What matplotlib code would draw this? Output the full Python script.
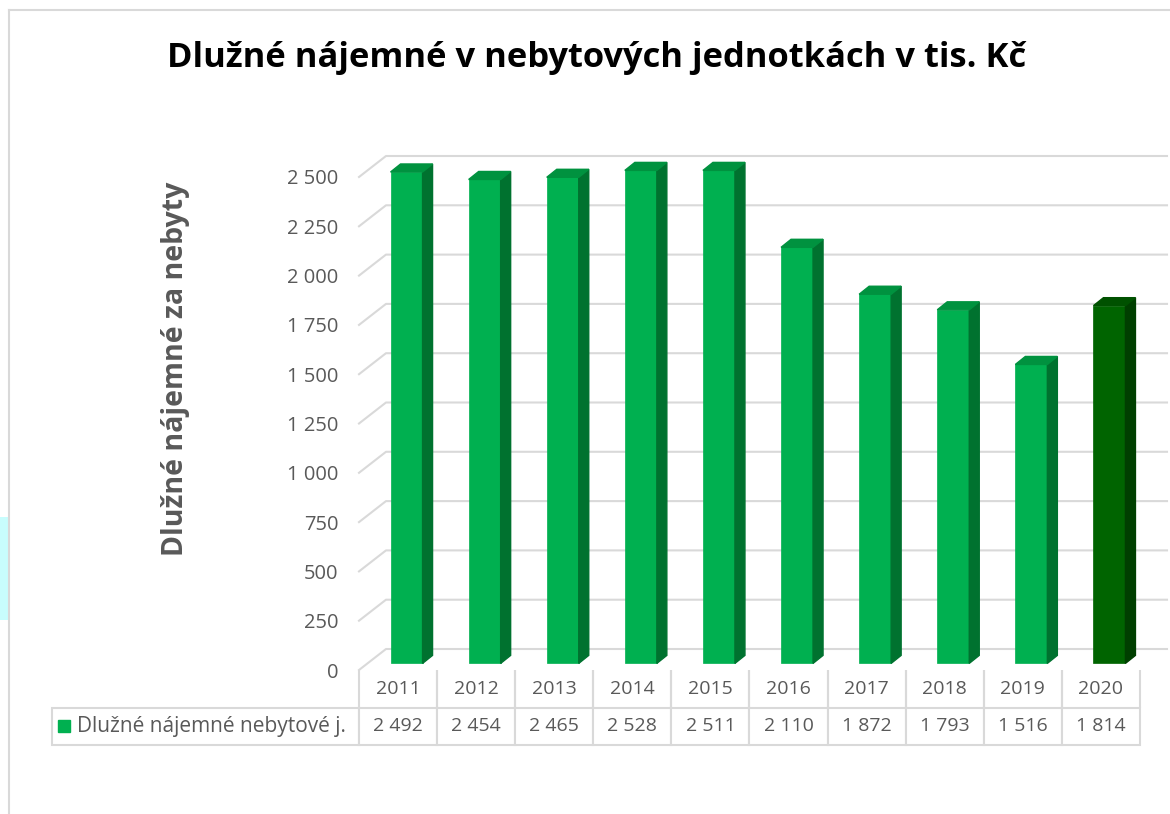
import matplotlib
matplotlib.use("Agg")
import matplotlib.pyplot as plt
from matplotlib.patches import Polygon, Rectangle

plt.rcParams['font.family'] = ['Open Sans', 'DejaVu Sans']

# data
years = ['2011', '2012', '2013', '2014', '2015', '2016', '2017', '2018', '2019', '2020']
values = [2492, 2454, 2465, 2528, 2511, 2110, 1872, 1793, 1516, 1814]
series_name = 'Dlužné nájemné nebytové j.'
yticks = [0, 250, 500, 750, 1000, 1250, 1500, 1750, 2000, 2250, 2500]
ymax = 2500

title = 'Dlužné nájemné v nebytových jednotkách v tis. Kč'
ylabel = 'Dlužné nájemné za nebyty'

green = '#00b050'
green_side = '#00722f'
green_top = '#00923f'
dark = '#006400'
dark_side = '#003f00'
dark_top = '#005100'
grid_col = '#d9d9d9'
text_col = '#595959'


def fmt(v):
    return f'{v:,}'.replace(',', ' ')


fig = plt.figure(figsize=(11.7, 8.14), dpi=100)

# outer frame of the chart area + small cyan strip at the left edge
fig.add_artist(plt.Line2D([9 / 1170, 1.0], [1 - 10 / 814, 1 - 10 / 814], color=grid_col, lw=1.5))
fig.add_artist(plt.Line2D([9 / 1170, 9 / 1170], [0, 1 - 10 / 814], color=grid_col, lw=1.5))
fig.add_artist(Rectangle((0, 1 - 620 / 814), 8 / 1170, 103 / 814, color='#c8fdfd', lw=0))

# axes = front plane of the 3D box
ax = fig.add_axes([359 / 1170, 1 - 670 / 814, 781 / 1170, 493 / 814])
ax.set_xlim(-0.5, len(years) - 0.5)
ax.set_ylim(0, ymax)
for s in ax.spines.values():
    s.set_visible(False)
ax.set_xticks([])
ax.set_yticks(yticks)
ax.set_yticklabels([fmt(t) for t in yticks])
ax.tick_params(axis='y', length=0, pad=15, labelsize=14.5, labelcolor=text_col)
ax.patch.set_alpha(0)

# depth of the box and of the bars in data units
DX, DY = 27 / 78.1, 21 / 0.1972
bdx, bdy = 10 / 78.1, 8 / 0.1972
fx, fy = 8.5 / 78.1, 6.6 / 0.1972
w = 32 / 78.1

# gridlines: left wall diagonal + back wall
x0, x1 = -0.5, len(years) - 0.5
for t in yticks:
    ax.plot([x0, x0 + DX, x1 + DX], [t, t + DY, t + DY], color=grid_col, lw=1.5,
            clip_on=False, zorder=1)

# bars (values above the axis maximum are cut at the maximum, like in the original)
for i, v in enumerate(values):
    h = min(v, ymax)
    last = i == len(values) - 1
    c_front, c_side, c_top = (dark, dark_side, dark_top) if last else (green, green_side, green_top)
    xl = i + fx - w / 2
    xr = i + fx + w / 2
    ax.bar(i + fx, h, width=w, bottom=fy, color=c_front, zorder=3, clip_on=False,
           edgecolor=c_front, lw=0.5)
    ax.add_patch(Polygon([(xr, fy), (xr + bdx, fy + bdy), (xr + bdx, h + fy + bdy), (xr, h + fy)],
                         closed=True, color=c_side, zorder=3, clip_on=False))
    ax.add_patch(Polygon([(xl, h + fy), (xr, h + fy), (xr + bdx, h + fy + bdy), (xl + bdx, h + fy + bdy)],
                         closed=True, color=c_top, zorder=3, clip_on=False))

# data table below
cell_text = [[series_name] + [fmt(v) for v in values]]
col_labels = [''] + years
first_w = 307 / 1088
other_w = 78.1 / 1088
tbl = ax.table(cellText=cell_text, colLabels=col_labels,
               colWidths=[first_w] + [other_w] * len(years),
               bbox=[-307 / 781, -75 / 493, 1088 / 781, 75 / 493],
               cellLoc='center')
tbl.auto_set_font_size(False)
tbl.set_fontsize(14)
for (r, c), cell in tbl.get_celld().items():
    cell.set_edgecolor(grid_col)
    cell.set_linewidth(1.5)
    cell.get_text().set_color(text_col)
    if r == 0:
        cell.visible_edges = '' if c == 0 else 'LR'
    if c == 0 and r == 1:
        cell.get_text().set_ha('left')
        cell.get_text().set_fontsize(15)
        cell._loc = 'left'
        cell.PAD = 25 / 307
tbl.set_clip_on(False)

# legend key in the table row
ax.add_patch(Rectangle(((58 - 359) / 781, -(720 - 670) / 493 - 12 / 493), 12 / 781, 12 / 493,
                       transform=ax.transAxes, color=green, clip_on=False, zorder=5))

fig.text(597 / 1170, 1 - 58 / 814, title, ha='center', va='center',
         fontsize=24.8, fontweight='bold', color='black')
fig.text(176 / 1170, 1 - 369 / 814, ylabel, ha='center', va='center', rotation=90,
         fontsize=20.5, fontweight='bold', color=text_col)

fig.savefig('out.png', dpi=100)
